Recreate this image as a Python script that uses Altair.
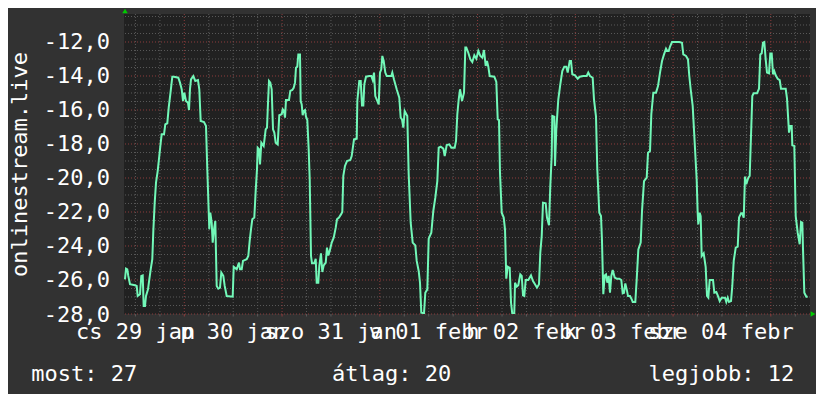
import altair as alt
import pandas as pd

# ---- data ----
hours = [0.24, 0.49, 0.81, 1.05, 1.47, 2.69, 3.11, 3.36, 3.92, 4.24, 4.58, 4.82, 5.14, 5.39, 5.88, 6.20, 6.54, 6.93, 7.18, 7.52,
         7.84, 8.25, 8.64, 8.99, 9.23, 9.80, 10.11, 10.60, 10.95, 11.44, 11.83, 12.25, 13.30, 13.71, 14.13, 14.45, 14.77, 15.18, 15.67, 15.92,
         16.16, 16.41, 16.97, 17.46, 18.12, 18.44, 18.78, 19.59, 20.08, 20.40, 20.74, 20.89, 21.13, 21.48, 21.72, 22.04, 22.36, 22.70, 23.09, 23.51,
         23.83, 24.32, 24.66, 25.15, 26.62, 26.87, 27.60, 28.16, 28.41, 28.83, 29.14, 30.05, 30.44, 30.78, 31.10, 31.42, 31.91, 32.25, 32.57, 32.74,
         33.06, 33.31, 33.63, 34.21, 34.70, 35.02, 35.27, 35.51, 35.83, 36.17, 36.49, 36.81, 37.15, 37.64, 38.03, 38.62, 38.87, 39.18, 39.43, 39.67,
         40.41, 40.73, 41.22, 41.56, 41.88, 42.12, 42.44, 42.69, 43.10, 43.27, 43.52, 43.76, 44.01, 44.33, 44.57, 44.89, 45.23, 45.48, 45.80, 46.04,
         46.60, 46.95, 47.19, 47.58, 47.83, 48.24, 48.56, 48.91, 49.40, 49.71, 50.03, 50.38, 50.87, 51.36, 51.85, 52.16, 52.65, 53.14, 53.46, 53.71,
         54.12, 54.61, 55.42, 55.76, 56.33, 56.99, 57.14, 57.62, 57.97, 58.29, 58.61, 58.85, 59.27, 60.07, 60.56, 60.91, 61.23, 61.54, 62.03, 62.38,
         62.69, 63.01, 63.26, 63.60, 63.99, 64.34, 65.46, 65.71, 66.12, 66.78, 67.42, 67.76, 68.08, 68.40, 68.74, 69.38, 69.72, 70.21, 70.70, 71.34,
         71.68, 72.17, 72.49, 72.81, 73.47, 73.79, 74.28, 74.62, 75.26, 75.75, 76.24, 76.73, 77.07, 77.56, 78.20, 78.54, 79.03, 79.67, 80.16, 80.99,
         81.31, 81.63, 81.97, 82.29, 82.78, 83.27, 83.59, 83.83, 84.32, 84.81, 85.30, 85.79, 86.28, 86.77, 87.26, 87.75, 88.16, 88.58, 88.90, 89.22,
         89.56, 90.69, 91.18, 91.52, 91.84, 92.08, 92.50, 92.99, 93.31, 93.62, 93.97, 94.46, 94.78, 95.09, 95.58, 95.76, 96.17, 96.56, 97.05, 97.40,
         97.72, 98.03, 98.38, 99.01, 99.67, 100.16, 100.65, 101.14, 101.63, 101.95, 102.30, 102.61, 103.27, 103.59, 104.08, 104.40, 104.74, 104.89, 105.38, 105.55,
         105.87, 106.36, 106.85, 107.34, 107.83, 108.32, 108.66, 109.15, 109.47, 109.79, 110.45, 111.11, 111.60, 112.48, 113.31, 113.70, 114.12, 114.78, 115.10, 115.59,
         115.91, 116.40, 116.82, 117.06, 117.38, 117.72, 118.04, 118.36, 118.70, 119.02, 119.34, 119.68, 120.17, 120.66, 121.30, 121.79, 122.13, 122.45, 122.77, 123.11,
         123.43, 123.92, 124.34, 124.58, 125.22, 125.56, 125.96, 126.54, 126.86, 127.35, 128.01, 128.33, 128.82, 129.14, 129.63, 130.29, 130.78, 131.27, 131.76, 132.25,
         132.74, 133.06, 133.40, 133.72, 134.21, 136.00, 136.65, 136.97, 137.63, 138.12, 138.44, 138.78, 139.27, 139.76, 140.25, 140.49, 140.64, 140.98, 141.23, 141.47,
         141.96, 142.45, 142.78, 143.10, 143.44, 144.25, 144.57, 145.06, 145.40, 145.89, 146.38, 147.19, 147.50, 147.85, 148.17, 148.66, 148.97, 149.32, 149.81, 150.30,
         150.62, 151.11, 151.42, 151.77, 152.08, 152.40, 152.89, 153.23, 153.55, 153.87, 154.21, 155.02, 155.51, 155.83, 156.17, 156.49, 156.81, 157.15, 157.47, 157.96,
         158.28, 158.62, 158.94, 159.25, 159.60, 160.09, 160.58, 160.90, 162.05, 162.37, 162.86, 163.18, 163.52, 163.67, 164.16, 164.50, 164.99, 165.48, 165.80, 166.12,
         166.29, 166.61, 167.10, 167.44]

rank = [-25.96, -25.33, -25.37, -25.76, -26.25, -26.31, -26.35, -26.94, -26.84, -25.76, -25.73, -27.53, -27.53, -26.94, -26.55, -25.96, -25.37, -24.78, -23.12, -21.45,
        -20.27, -19.59, -18.71, -17.92, -17.43, -17.43, -16.84, -16.78, -15.86, -14.88, -14.04, -14.04, -14.10, -14.39, -14.78, -15.47, -14.98, -15.47, -15.57, -16.00,
        -14.78, -14.20, -14.00, -14.29, -14.24, -14.78, -16.65, -16.71, -16.94, -19.49, -21.94, -23.02, -22.04, -22.63, -23.80, -23.02, -22.53, -26.35, -26.51, -26.45,
        -25.57, -25.76, -26.35, -26.94, -26.98, -25.22, -25.37, -24.98, -25.37, -25.37, -24.88, -24.78, -24.59, -23.70, -23.02, -22.43, -22.33, -20.76, -19.49, -18.22,
        -18.31, -19.20, -17.92, -18.12, -17.14, -17.04, -15.57, -14.29, -14.39, -14.78, -17.14, -17.33, -17.92, -18.02, -16.31, -16.25, -15.96, -16.06, -16.45, -15.41,
        -15.41, -14.88, -14.82, -14.69, -14.39, -13.51, -13.45, -12.73, -12.73, -15.47, -15.67, -16.31, -16.06, -16.00, -16.39, -16.59, -18.31, -20.08, -24.59, -25.02,
        -25.02, -24.75, -26.16, -26.16, -25.18, -24.43, -25.53, -25.14, -24.98, -24.10, -24.55, -24.29, -23.80, -23.51, -22.92, -22.43, -22.33, -22.14, -22.00, -19.88,
        -19.29, -19.00, -18.94, -18.71, -17.73, -17.69, -15.47, -14.29, -14.29, -15.73, -15.73, -14.49, -14.04, -14.00, -14.00, -14.24, -13.80, -15.18, -15.47, -15.67,
        -13.80, -13.61, -12.82, -13.12, -13.80, -14.00, -14.00, -13.80, -14.20, -14.78, -15.27, -16.45, -16.55, -17.04, -16.06, -16.35, -19.78, -22.63, -23.80, -23.96,
        -24.88, -25.47, -26.16, -27.92, -27.96, -26.75, -26.55, -23.57, -23.22, -21.94, -21.16, -20.18, -18.22, -18.16, -18.27, -18.71, -18.06, -18.02, -18.22, -18.22,
        -17.82, -16.25, -15.37, -14.78, -15.47, -14.98, -12.33, -12.33, -12.63, -13.02, -13.18, -12.78, -12.98, -12.53, -12.82, -12.92, -12.47, -13.41, -13.12, -13.45,
        -14.00, -14.04, -14.35, -16.55, -16.59, -19.69, -22.04, -22.33, -23.02, -25.92, -25.22, -25.29, -27.33, -27.98, -27.96, -26.16, -26.39, -26.31, -25.67, -25.76,
        -26.90, -26.94, -26.00, -26.00, -25.73, -26.06, -26.25, -26.45, -26.25, -24.39, -23.41, -21.45, -21.49, -22.33, -22.78, -20.47, -18.71, -16.35, -16.39, -19.29,
        -17.14, -15.37, -14.49, -13.71, -13.45, -13.45, -13.80, -13.12, -13.12, -13.90, -13.96, -14.16, -14.04, -14.00, -14.00, -13.80, -14.00, -14.10, -15.37, -16.39,
        -19.49, -22.04, -22.24, -23.70, -26.84, -25.73, -25.67, -26.16, -25.76, -26.75, -25.76, -25.41, -25.86, -25.92, -25.92, -26.00, -26.78, -26.75, -26.20, -26.55,
        -26.94, -26.94, -27.14, -27.29, -27.29, -25.96, -24.20, -23.80, -21.94, -20.18, -19.98, -18.51, -18.41, -16.25, -14.98, -14.98, -14.59, -13.80, -13.12, -12.73,
        -12.39, -12.53, -12.53, -12.27, -12.00, -12.00, -12.04, -12.73, -12.82, -13.02, -14.00, -14.78, -15.76, -17.92, -20.10, -22.04, -22.73, -22.04, -22.24, -24.59,
        -24.43, -25.22, -26.94, -27.04, -26.00, -26.00, -26.75, -26.71, -26.90, -27.24, -27.04, -27.04, -27.29, -27.04, -27.29, -27.24, -26.35, -24.88, -24.10, -24.04,
        -22.33, -22.08, -22.08, -22.33, -19.92, -20.37, -19.98, -19.88, -17.53, -15.18, -15.02, -15.02, -14.75, -12.73, -12.67, -12.04, -12.00, -13.02, -13.80, -13.84,
        -12.67, -12.67, -13.90, -13.71, -13.96, -14.16, -14.24, -14.75, -14.75, -15.33, -17.33, -16.94, -16.94, -18.08, -18.12, -22.24, -23.22, -23.90, -22.59, -22.63,
        -24.20, -26.75, -26.98, -26.98]

y_major = [-28, -26, -24, -22, -20, -18, -16, -14, -12]
y_minor = [-27.5, -27, -26.5, -25.5, -25, -24.5, -23.5, -23, -22.5, -21.5, -21, -20.5,
           -19.5, -19, -18.5, -17.5, -17, -16.5, -15.5, -15, -14.5, -13.5, -13, -12.5, -11.5, -11, -10.5]
x_major = [14.77, 38.71, 62.65, 86.59, 110.53, 134.47, 158.41]
x_minor = [2.80, 8.79, 20.76, 26.74, 32.73, 44.70, 50.68, 56.67, 68.64, 74.62, 80.61, 92.58, 98.56, 104.55,
           116.52, 122.50, 128.49, 140.46, 146.44, 152.43, 164.40]
x_label_hours = [2.84, 26.73, 50.62, 74.51, 98.40, 122.29, 146.18]
x_labels = ["cs 29 jan", "p 30 jan", "szo 31 jan", "v 01 febr", "h 02 febr", "k 03 febr", "sze 04 febr"]
legend_names = ["most", "átlag", "legjobb"]
legend_values = [27, 20, 12]
y_title = "onlinestream.live"

# ---- styling ----
FONT = "DejaVu Sans Mono"
FS = 22
BG = "#323232"
PLOT_BG = "#212121"
LINE = "#72F8B8"
GRID = "#5a5a5a"
MGRID = "#8c3c3c"
W, H = 686, 300

xs = alt.Scale(domain=[0, 168], nice=False, zero=False)
ys = alt.Scale(domain=[-28, -10.353], nice=False, zero=False)

df = pd.DataFrame({"h": hours, "v": rank})

y_axis = alt.Axis(
    values=y_major, ticks=False, domain=False, grid=False,
    labelExpr="(datum.value < 0 ? '-' : '') + replace(format(abs(datum.value), '.1f'), '.', ',')",
    labelFont=FONT, labelFontSize=FS, labelColor="#ffffff", labelPadding=14.5,
    labelBaseline="middle",
    title=y_title, titleFont=FONT, titleFontSize=FS, titleFontWeight="normal", titleColor="#ffffff",
    titleAngle=270, titleAlign="center", titleBaseline="alphabetic", titleX=-98, titleY=150,
)

hmin = alt.Chart(pd.DataFrame({"y": y_minor})).mark_rule(color=GRID, strokeWidth=1, strokeDash=[1, 2]).encode(
    y=alt.Y("y:Q", scale=ys, axis=y_axis))
hmaj = alt.Chart(pd.DataFrame({"y": y_major})).mark_rule(color=MGRID, strokeWidth=1, strokeDash=[1, 2]).encode(
    y=alt.Y("y:Q", scale=ys, axis=y_axis))
vmin = alt.Chart(pd.DataFrame({"x": x_minor})).mark_rule(color=GRID, strokeWidth=1, strokeDash=[1, 2]).encode(
    x=alt.X("x:Q", scale=xs, axis=None))
vmaj = alt.Chart(pd.DataFrame({"x": x_major})).mark_rule(color=MGRID, strokeWidth=1, strokeDash=[1, 2]).encode(
    x=alt.X("x:Q", scale=xs, axis=None))
tmin = alt.Chart(pd.DataFrame({"x": x_minor})).mark_rule(color=GRID, strokeWidth=1).encode(
    x=alt.X("x:Q", scale=xs, axis=None), y=alt.value(H), y2=alt.value(H + 2.5))
tmaj = alt.Chart(pd.DataFrame({"x": x_major})).mark_rule(color=MGRID, strokeWidth=1).encode(
    x=alt.X("x:Q", scale=xs, axis=None), y=alt.value(H), y2=alt.value(H + 2.5))

line = alt.Chart(df).mark_line(color=LINE, strokeWidth=2, clip=True).encode(
    x=alt.X("h:Q", scale=xs, axis=None),
    y=alt.Y("v:Q", scale=ys, axis=y_axis),
)

xlab = alt.Chart(pd.DataFrame({"x": x_label_hours, "t": x_labels})).mark_text(
    font=FONT, fontSize=FS, color="#ffffff", align="center", baseline="alphabetic"
).encode(x=alt.X("x:Q", scale=xs, axis=None), y=alt.value(H + 25), text="t:N")

legend_x = [-92.8, 208, 524.5]
leg_layers = []
for name, val, lx in zip(legend_names, legend_values, legend_x):
    leg_layers.append(
        alt.Chart(pd.DataFrame({"t": [f"{name}: {val}"]})).mark_text(
            font=FONT, fontSize=FS, color="#ffffff", align="left", baseline="alphabetic"
        ).encode(x=alt.value(lx), y=alt.value(367), text="t:N")
    )

arrow_up = alt.Chart(pd.DataFrame({"a": [0]})).mark_point(
    shape="triangle-up", filled=True, size=30, color="#00cc00", opacity=1
).encode(x=alt.value(1), y=alt.value(-3))
arrow_right = alt.Chart(pd.DataFrame({"a": [0]})).mark_point(
    shape="triangle-right", filled=True, size=30, color="#00cc00", opacity=1
).encode(x=alt.value(689), y=alt.value(H))

chart = alt.layer(
    hmin, vmin, hmaj, vmaj, tmin, tmaj, line, xlab, *leg_layers, arrow_up, arrow_right
).properties(
    width=W, height=H,
    autosize=alt.AutoSizeParams(type="none"),
    padding={"left": 116, "top": 6, "right": 6, "bottom": 80},
).configure(
    background=BG,
).configure_view(
    fill=PLOT_BG, stroke=PLOT_BG, strokeWidth=0,
)

chart.save("out.html", embed_options={"renderer": "svg", "actions": False})
